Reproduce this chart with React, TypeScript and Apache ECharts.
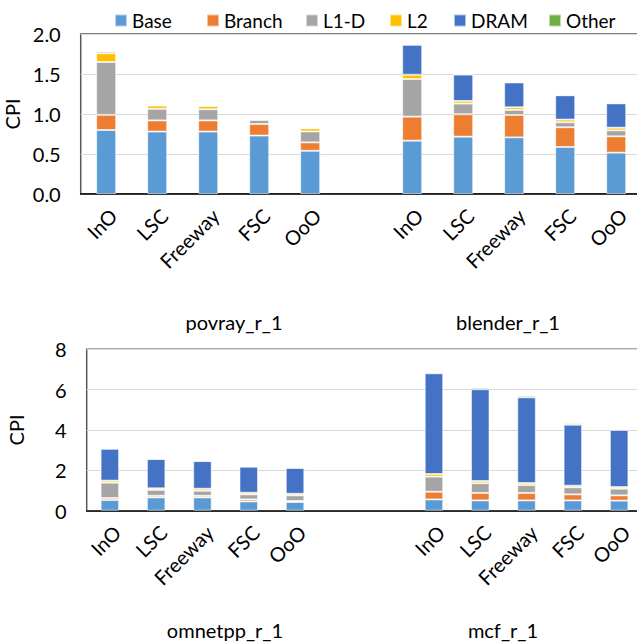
import React, { useEffect, useRef } from "react";
import * as echarts from "echarts";

const configs = ["InO", "LSC", "Freeway", "FSC", "OoO"];
const components = ["Base", "Branch", "L1-D", "L2", "DRAM", "Other"];
const colors = ["#5B9BD5", "#ED7D31", "#A5A5A5", "#FFC000", "#4472C4", "#70AD47"];

// values per component, order: InO, LSC, Freeway, FSC, OoO
const povrayBase = [0.80, 0.78, 0.78, 0.73, 0.54];
const povrayBranch = [0.19, 0.14, 0.14, 0.145, 0.105];
const povrayL1D = [0.66, 0.145, 0.14, 0.05, 0.137];
const povrayL2 = [0.11, 0.04, 0.04, 0.01, 0.04];
const povrayDRAM = [0.02, 0.005, 0.005, 0.003, 0.003];
const povrayOther = [0, 0, 0, 0, 0];

const blenderBase = [0.667, 0.717, 0.708, 0.588, 0.517];
const blenderBranch = [0.30, 0.28, 0.28, 0.246, 0.204];
const blenderL1D = [0.47, 0.133, 0.063, 0.063, 0.075];
const blenderL2 = [0.054, 0.033, 0.033, 0.033, 0.033];
const blenderDRAM = [0.375, 0.33, 0.31, 0.304, 0.304];
const blenderOther = [0, 0, 0, 0, 0];

const omnetppBase = [0.53, 0.66, 0.66, 0.46, 0.43];
const omnetppBranch = [0.10, 0.08, 0.08, 0.10, 0.05];
const omnetppL1D = [0.76, 0.29, 0.25, 0.25, 0.28];
const omnetppL2 = [0.10, 0.08, 0.10, 0.08, 0.08];
const omnetppDRAM = [1.58, 1.45, 1.37, 1.29, 1.28];
const omnetppOther = [0.01, 0.01, 0.01, 0.01, 0.01];

const mcfBase = [0.56, 0.51, 0.51, 0.51, 0.50];
const mcfBranch = [0.38, 0.37, 0.37, 0.30, 0.26];
const mcfL1D = [0.75, 0.48, 0.39, 0.35, 0.33];
const mcfL2 = [0.13, 0.11, 0.10, 0.08, 0.08];
const mcfDRAM = [4.99, 4.55, 4.25, 3.02, 2.83];
const mcfOther = [0.05, 0.08, 0.08, 0.07, 0.05];

const povray = [povrayBase, povrayBranch, povrayL1D, povrayL2, povrayDRAM, povrayOther];
const blender = [blenderBase, blenderBranch, blenderL1D, blenderL2, blenderDRAM, blenderOther];
const omnetpp = [omnetppBase, omnetppBranch, omnetppL1D, omnetppL2, omnetppDRAM, omnetppOther];
const mcf = [mcfBase, mcfBranch, mcfL1D, mcfL2, mcfDRAM, mcfOther];

const topCategories = [...configs, "", ...configs];
const bottomCategories = [...configs, "", "", ...configs];
const groupLabels = ["povray_r_1", "blender_r_1", "omnetpp_r_1", "mcf_r_1"];

const FONT = "Lato";
const FS = 20;

export default function App() {
  const ref = useRef<HTMLDivElement>(null);
  useEffect(() => {
    const chart = echarts.init(ref.current!, null, { renderer: "svg" });
    const txt = { fontFamily: FONT, fontSize: FS, color: "#000" };

    const series: any[] = [];
    components.forEach((name, i) => {
      series.push({
        name,
        type: "bar",
        stack: "top",
        xAxisIndex: 0,
        yAxisIndex: 0,
        barWidth: 20,
        itemStyle: { color: colors[i], borderColor: "rgba(255,255,255,0.55)", borderWidth: 1 },
        data: [...povray[i], null, ...blender[i]],
      });
      series.push({
        name,
        type: "bar",
        stack: "bottom",
        xAxisIndex: 1,
        yAxisIndex: 1,
        barWidth: 18.5,
        itemStyle: { color: colors[i], borderColor: "rgba(255,255,255,0.55)", borderWidth: 1 },
        data: [...omnetpp[i], null, null, ...mcf[i]],
      });
    });

    const legendLefts = [109, 201, 300, 384, 448, 543];
    const legends = components.map((name, i) => ({
      data: [name],
      left: legendLefts[i],
      top: 6,
      itemWidth: 12,
      itemHeight: 12,
      itemGap: 0,
      icon: "rect",
      textStyle: { ...txt, fontSize: 19 },
    }));

    const xAxisCommon = {
      type: "category",
      axisTick: { show: false },
      axisLine: { lineStyle: { color: "#000", width: 1.5 } },
      axisLabel: { ...txt, rotate: 45, interval: 0, margin: 11, verticalAlign: "top" },
    };
    const yAxisCommon = {
      type: "value",
      name: "CPI",
      nameLocation: "middle",
      nameRotate: 90,
      nameTextStyle: { ...txt },
      axisLine: { show: false },
      axisTick: { show: false },
      splitLine: { lineStyle: { color: "#d9d9d9", width: 1.2 } },
    };

    const gl = (i: number, x: number, y: number) => ({
      type: "text",
      x,
      y,
      style: { text: groupLabels[i], font: `${FS}px ${FONT}`, fill: "#000", textAlign: "center", textVerticalAlign: "middle" },
    });

    chart.setOption({
      animation: false,
      legend: legends,
      grid: [
        { left: 80.7, top: 34, width: 561, height: 160, show: true, borderColor: "#595959", borderWidth: 1.5, outerBoundsMode: "none", containLabel: false },
        { left: 86.7, top: 349.3, width: 555.6, height: 161.4, show: true, borderColor: "#595959", borderWidth: 1.5, outerBoundsMode: "none", containLabel: false },
      ],
      xAxis: [
        { ...xAxisCommon, gridIndex: 0, data: topCategories },
        { ...xAxisCommon, gridIndex: 1, data: bottomCategories },
      ],
      yAxis: [
        {
          ...yAxisCommon,
          gridIndex: 0,
          min: 0,
          max: 2,
          interval: 0.5,
          nameGap: 57,
          axisLabel: { ...txt, margin: 20, formatter: (v: number) => v.toFixed(1) },
        },
        {
          ...yAxisCommon,
          gridIndex: 1,
          min: 0,
          max: 8,
          interval: 2,
          nameGap: 61,
          axisLabel: { ...txt, margin: 20 },
        },
      ],
      graphic: [gl(0, 234, 322), gl(1, 508, 322), gl(2, 225, 630), gl(3, 503, 630)],
      series,
    });
    return () => chart.dispose();
  }, []);
  return (
    <div
      ref={ref}
      style={{ position: "absolute", left: 0, top: 0, width: 637, height: 642, background: "#fff" }}
    />
  );
}
